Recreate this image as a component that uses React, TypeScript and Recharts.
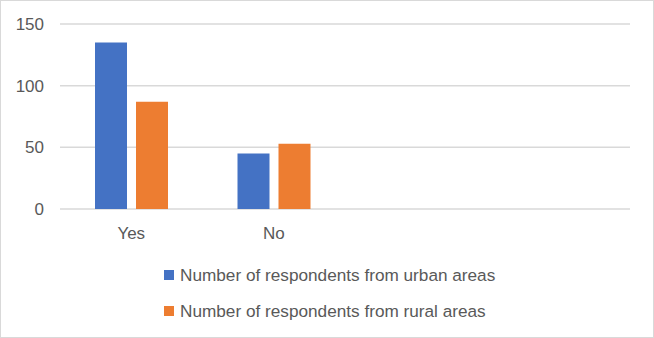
import { BarChart, Bar, XAxis, YAxis, CartesianGrid, Legend } from 'recharts'

const categories = ['Yes', 'No', '', '']
const urban = [135, 45, null, null]
const rural = [87, 53, null, null]
const yTicks = [0, 50, 100, 150]

const seriesNames = {
	urban: 'Number of respondents from urban areas',
	rural: 'Number of respondents from rural areas',
}
const seriesOrder = [seriesNames.urban, seriesNames.rural]

const data = categories.map((name, i) => ({ name, urban: urban[i], rural: rural[i] }))

const FONT = '"Liberation Sans", Arial, sans-serif'
const TEXT = '#595959'

const renderLegend = (props: any) => {
	const payload = [...props.payload].sort((a: any, b: any) => seriesOrder.indexOf(a.value) - seriesOrder.indexOf(b.value))
	return (
		<div>
			{payload.map((entry: any) => (
				<div
					key={entry.value}
					style={{ height: 36, display: 'flex', alignItems: 'center', fontFamily: FONT, fontSize: 17.2, color: TEXT, whiteSpace: 'nowrap' }}
				>
					<span style={{ display: 'inline-block', width: 10, height: 10, background: entry.color, marginRight: 6 }} />
					{entry.value}
				</div>
			))}
		</div>
	)
}

export default function App() {
	return (
		<div
			style={{
				position: 'absolute',
				left: 0,
				top: 0,
				width: 654,
				height: 338,
				border: '1px solid #d9d9d9',
				boxSizing: 'border-box',
				background: '#fff',
			}}
		>
			<div style={{ position: 'absolute', left: -1, top: -1 }}>
				<BarChart width={654} height={338} data={data} margin={{ top: 24, right: 24, left: 0, bottom: 99 }} barSize={32} barGap={9}>
					<CartesianGrid vertical={false} stroke="#d9d9d9" strokeWidth={1.5} />
					<XAxis
						dataKey="name"
						axisLine={false}
						tickLine={false}
						height={30}
						tickMargin={12}
						tick={{ fill: TEXT, fontSize: 17, fontFamily: FONT }}
					/>
					<YAxis
						domain={[0, 150]}
						ticks={yTicks}
						width={60}
						axisLine={false}
						tickLine={false}
						tickMargin={10}
						tick={{ fill: TEXT, fontSize: 17, fontFamily: FONT }}
					/>
					<Legend
						layout="vertical"
						align="center"
						verticalAlign="middle"
						content={renderLegend}
						wrapperStyle={{ top: 257, left: 164, width: 'auto', height: 'auto' }}
					/>
					<Bar dataKey="urban" name={seriesNames.urban} fill="#4472C4" isAnimationActive={false} />
					<Bar dataKey="rural" name={seriesNames.rural} fill="#ED7D31" isAnimationActive={false} />
				</BarChart>
			</div>
		</div>
	)
}
